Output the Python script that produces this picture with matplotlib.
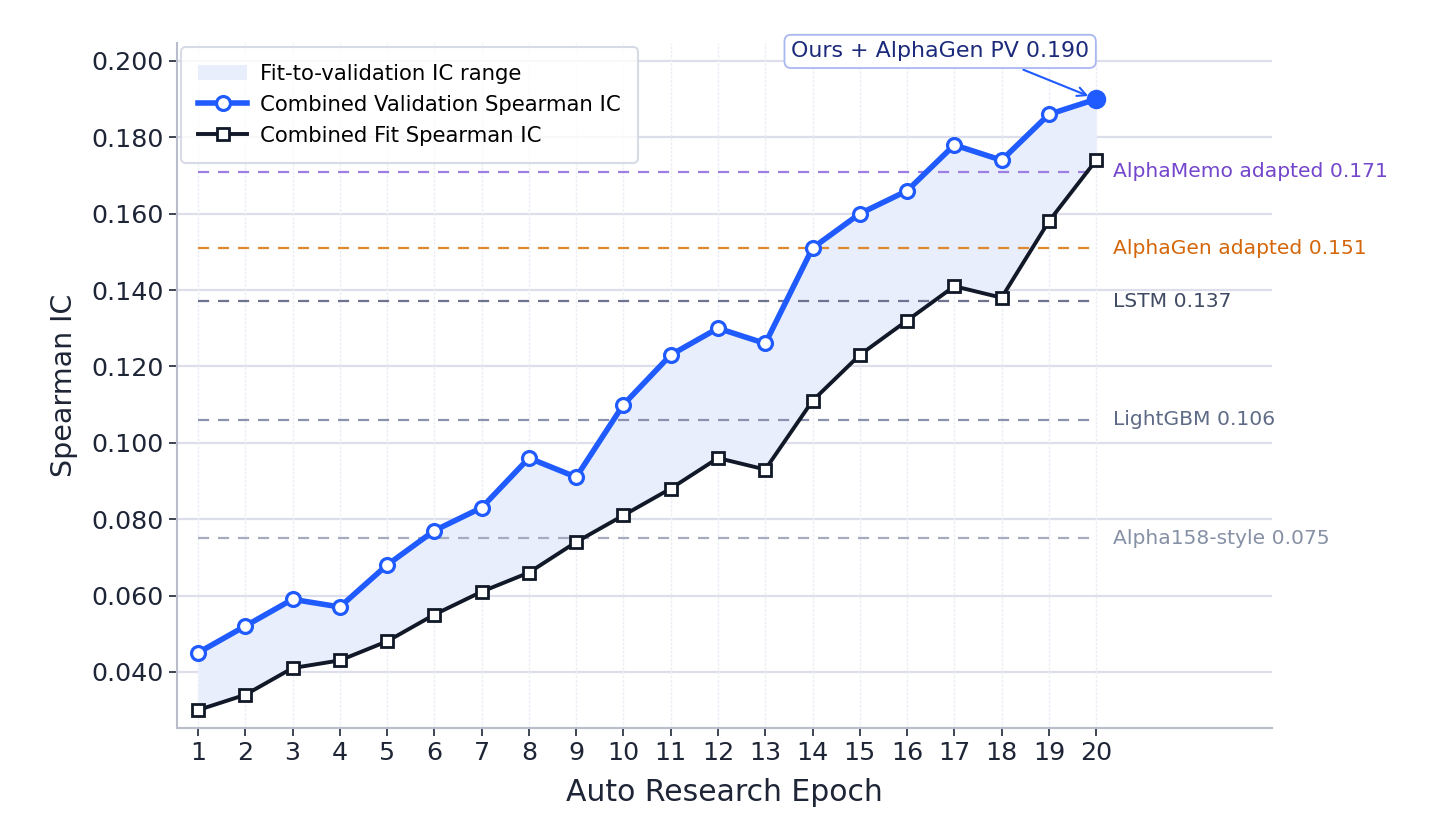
import matplotlib
matplotlib.use("Agg")
import matplotlib.pyplot as plt
import numpy as np

# data
epochs = list(range(1, 21))
val_ic = [0.045, 0.052, 0.059, 0.057, 0.068, 0.077, 0.083, 0.096, 0.091, 0.110,
          0.123, 0.130, 0.126, 0.151, 0.160, 0.166, 0.178, 0.174, 0.186, 0.190]
fit_ic = [0.030, 0.034, 0.041, 0.043, 0.048, 0.055, 0.061, 0.066, 0.074, 0.081,
          0.088, 0.096, 0.093, 0.111, 0.123, 0.132, 0.141, 0.138, 0.158, 0.174]

baseline_names = ["AlphaMemo adapted", "AlphaGen adapted", "LSTM", "LightGBM", "Alpha158-style"]
baseline_values = [0.171, 0.151, 0.137, 0.106, 0.075]
baseline_line_colors = ["#9d7fe3", "#e0892c", "#6e7390", "#8b92ad", "#a4acbd"]
baseline_text_colors = ["#7446cc", "#d4670b", "#3f4a63", "#5f6b86", "#8791a6"]

yticks = [0.04, 0.06, 0.08, 0.10, 0.12, 0.14, 0.16, 0.18, 0.20]

plt.rcParams['font.family'] = ['DejaVu Sans']

fig = plt.figure(figsize=(14.56, 8.36), dpi=100)
ax = fig.add_axes([177 / 1456, 1 - 728 / 836, (1272 - 177) / 1456, (728 - 43) / 836])

# grid
for y in yticks:
    ax.axhline(y, color="#dcdfeb", lw=1.6, zorder=0)
for x in epochs:
    ax.axvline(x, color="#eceef5", lw=1.0, ls=(0, (2, 1)), zorder=0)

# fill between fit and validation
ax.fill_between(epochs, fit_ic, val_ic, color="#e8eefc", lw=0, zorder=1,
                label="Fit-to-validation IC range")

# baselines
for name, v, lc, tc in zip(baseline_names, baseline_values, baseline_line_colors, baseline_text_colors):
    ax.plot([epochs[0], epochs[-1]], [v, v], ls=(0, (5, 4)), color=lc, lw=1.6, zorder=2)
    ax.text(epochs[-1] + 0.35, v, f"{name} {v:.3f}", color=tc, fontsize=14.6,
            va="center", ha="left", zorder=5)

# lines
ax.plot(epochs, val_ic, color="#1f5bff", lw=4, marker="o", ms=10, mfc="white",
        mec="#1f5bff", mew=2.3, zorder=4, label="Combined Validation Spearman IC")
ax.plot(epochs, fit_ic, color="#111827", lw=2.8, marker="s", ms=8.5, mfc="white",
        mec="#111827", mew=2.0, zorder=3, label="Combined Fit Spearman IC")
ax.plot(epochs[-1], val_ic[-1], "o", color="#1f5bff", ms=13, zorder=6)

ax.annotate(f"Ours + AlphaGen PV {val_ic[-1]:.3f}", xy=(epochs[-1], val_ic[-1]),
            xytext=(16.7, 0.2025), ha="center", va="center", fontsize=15.9, color="#1b2a7a",
            bbox=dict(boxstyle="round,pad=0.3", fc="white", ec="#a9b8f0", lw=1.3),
            arrowprops=dict(arrowstyle="->", color="#1f5bff", lw=1.5, shrinkA=2, shrinkB=6,
                            relpos=(0.71, 0.0)),
            zorder=7)

ax.set_xlim(0.555, 23.72)
ax.set_ylim(0.0253, 0.2047)
ax.set_xticks(epochs)
ax.set_yticks(yticks)
ax.set_yticklabels([f"{y:.3f}" for y in yticks])
ax.tick_params(labelsize=18.3, colors="#1e2536", length=6, width=1.2)
ax.set_xlabel("Auto Research Epoch", fontsize=21.5, color="#1e2536", labelpad=9)
ax.set_ylabel("Spearman IC", fontsize=20.5, color="#1e2536", labelpad=10)

for s in ["top", "right"]:
    ax.spines[s].set_visible(False)
for s in ["left", "bottom"]:
    ax.spines[s].set_color("#b8bccb")
    ax.spines[s].set_linewidth(1.5)

leg = ax.legend(loc="upper left", fontsize=15.3, frameon=True, fancybox=True,
                borderaxespad=0.2, borderpad=0.8, handlelength=2.3, handletextpad=0.6,
                labelspacing=0.5)
leg.get_frame().set_edgecolor("#cdd3e0")
leg.get_frame().set_linewidth(1.5)
leg.set_zorder(8)

fig.savefig("out.png", dpi=100, facecolor="white")
